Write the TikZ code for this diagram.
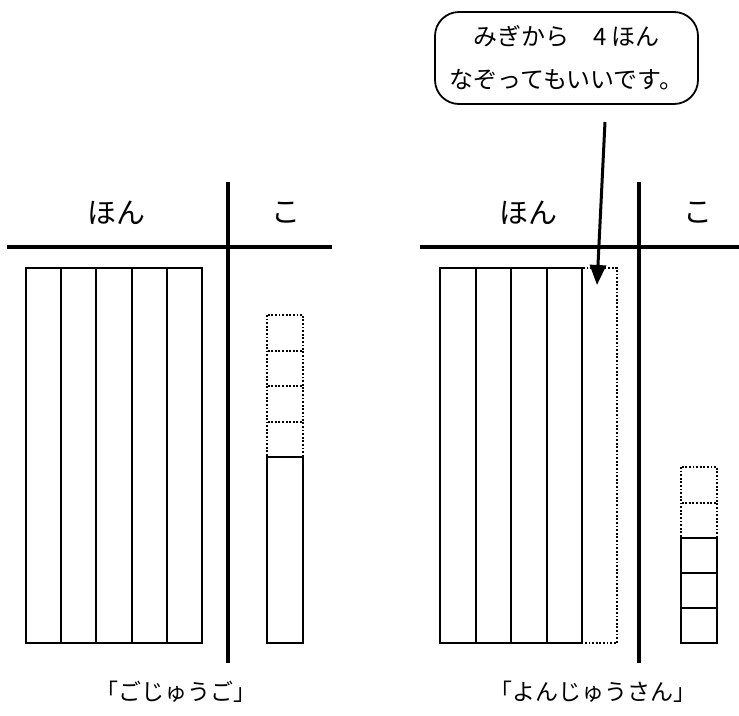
\documentclass[tikz,border=0pt]{standalone}
\usepackage{fontspec}
\setmainfont{Noto Sans CJK JP}
\usetikzlibrary{arrows.meta}
\tikzset{
  rule/.style={line width=3.3pt},
  rod/.style={line width=2pt},
  unitbox/.style={line width=2.8pt},
  ghost/.style={line width=2pt,dash pattern=on 1.8pt off 1.8pt},
  head/.style={font=\fontsize{29}{29}\selectfont,inner sep=0pt},
  caption/.style={font=\fontsize{23}{23}\selectfont,inner sep=0pt},
  bubble/.style={draw,line width=1.8pt,rounded corners=24pt,align=center,
    minimum width=263pt,minimum height=92pt,inner sep=0pt,
    font=\fontsize{24}{43}\selectfont},
  pointer/.style={line width=3pt,-{Triangle[width=16pt,length=20pt]}}
}
\begin{document}
\begin{tikzpicture}[x=1pt,y=-1pt]
\useasboundingbox (0,0) rectangle (739,715);

% left: 55
\draw[rule] (7,247) -- (332,247);
\draw[rule] (228,182) -- (228,663);
\node[head] (honL) at (116,213) {ほん};
\node[head] (koL) at (286,213) {こ};

\foreach \x in {26,61.2,96.4,131.6,166.8}
  \draw[rod] (\x,268) rectangle ++(35.2,375);

\foreach \y in {315,350.5,386,421.5}
  \draw[ghost] (267,\y) rectangle ++(36,35.5);
\draw[unitbox] (267,457) rectangle (303,643);

\node[caption] (capL) at (176,692) {「ごじゅうご」};

% right: 43
\draw[rule] (420,247) -- (739,247);
\draw[rule] (639,182) -- (639,663);
\node[head] (honR) at (528,213) {ほん};
\node[head] (koR) at (698,213) {こ};

\foreach \x in {440,475.5,511,546.5}
  \draw[rod] (\x,268) rectangle ++(35.5,375);
\draw[ghost] (582,268) rectangle (617,643);

\foreach \y in {467,502.5}
  \draw[ghost] (681,\y) rectangle ++(36,35.5);
\foreach \y in {538,573,608}
  \draw[unitbox] (681,\y) rectangle ++(36,35);

\node[caption] (capR) at (593,692) {「よんじゅうさん」};

% callout
\node[bubble] (note) at (566.5,58)
{みぎから　4 ほん\\
なぞってもいいです。};
\coordinate (tail) at (605,122);
\coordinate (tip) at (597,285);
\draw[pointer] (tail) -- (tip);
\end{tikzpicture}
\end{document}
